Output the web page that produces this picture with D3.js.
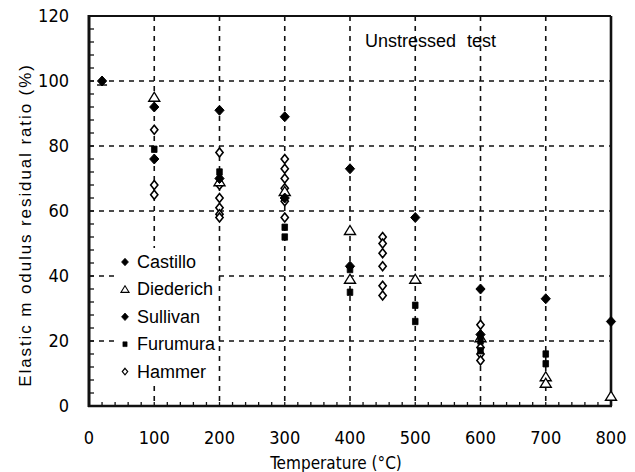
<!DOCTYPE html>
<html lang="en">
<head>
<meta charset="utf-8">
<title>Elastic modulus residual ratio</title>
<script src="https://cdnjs.cloudflare.com/ajax/libs/d3/7.8.5/d3.min.js"></script>
<style>
  body { margin: 0; background: #fff; }
  .num { font-family: "Liberation Sans Narrow", "Arial Narrow", "DejaVu Sans Condensed", sans-serif; font-size: 18px; }
  .txt { font-family: "Liberation Sans", Arial, sans-serif; font-size: 17px; }
</style>
</head>
<body>
<div id="chart"></div>
<script>
// temperatures (deg C) and residual ratios (%)
var castilloT = [20, 100, 200, 300, 400, 500, 600, 700, 800];
var castilloV = [100, 92, 91, 89, 73, 58, 36, 33, 26];

var diederichT = [100, 200, 300, 400, 400, 500, 600, 700, 700, 800];
var diederichV = [95, 69, 66, 54, 39, 39, 21, 9, 7, 3];

var sullivanT = [100, 200, 300, 400, 600];
var sullivanV = [76, 70, 64, 43, 22];

var furumuraT = [100, 200, 300, 300, 400, 400, 500, 500, 600, 600, 700, 700];
var furumuraV = [79, 72, 55, 52, 42, 35, 31, 26, 20, 17, 16, 13];

var hammerT = [100, 100, 100, 200, 200, 200, 200, 200, 200, 300, 300, 300, 300, 300, 300,
               450, 450, 450, 450, 450, 450, 600, 600, 600, 600];
var hammerV = [85, 68, 65, 78, 68, 64, 61, 59, 58, 76, 73, 70, 67, 63, 58,
               52, 50, 47, 43, 37, 34, 25, 18, 16, 14];

var xTicks = [0, 100, 200, 300, 400, 500, 600, 700, 800];
var yTicks = [0, 20, 40, 60, 80, 100, 120];
var legendNames = ["Castillo", "Diederich", "Sullivan", "Furumura", "Hammer"];

var W = 635, H = 472;
var svg = d3.select("#chart").append("svg")
  .attr("width", W).attr("height", H);

var x = d3.scaleLinear().domain([0, 800]).range([89, 611]);
var y = d3.scaleLinear().domain([0, 120]).range([406, 16]);

// dashed grid
svg.append("g").selectAll("line")
  .data(xTicks.slice(1, -1))
  .enter().append("line")
  .attr("x1", function(d) { return x(d); }).attr("x2", function(d) { return x(d); })
  .attr("y1", y(120)).attr("y2", y(0))
  .attr("stroke", "#111").attr("stroke-width", 1.6).attr("stroke-dasharray", "5,5");
svg.append("g").selectAll("line")
  .data(yTicks.slice(1, -1))
  .enter().append("line")
  .attr("y1", function(d) { return y(d); }).attr("y2", function(d) { return y(d); })
  .attr("x1", x(0)).attr("x2", x(800))
  .attr("stroke", "#111").attr("stroke-width", 1.6).attr("stroke-dasharray", "5,5");

// minor ticks, pointing inward
svg.append("g").selectAll("line")
  .data(d3.range(0, 121, 4))
  .enter().append("line")
  .attr("x1", x(0)).attr("x2", x(0) + 5)
  .attr("y1", function(d) { return y(d); }).attr("y2", function(d) { return y(d); })
  .attr("stroke", "#111").attr("stroke-width", 1.3);
svg.append("g").selectAll("line")
  .data(d3.range(0, 801, 20))
  .enter().append("line")
  .attr("x1", function(d) { return x(d); }).attr("x2", function(d) { return x(d); })
  .attr("y1", y(0)).attr("y2", y(0) - 4)
  .attr("stroke", "#111").attr("stroke-width", 1.3);

// frame
svg.append("line").attr("x1", x(0)).attr("x2", x(800)).attr("y1", y(120)).attr("y2", y(120))
  .attr("stroke", "#111").attr("stroke-width", 2);
svg.append("line").attr("x1", x(800)).attr("x2", x(800)).attr("y1", y(120)).attr("y2", y(0))
  .attr("stroke", "#111").attr("stroke-width", 2.6);
svg.append("line").attr("x1", x(0)).attr("x2", x(0)).attr("y1", y(120) - 1).attr("y2", y(0) + 1)
  .attr("stroke", "#111").attr("stroke-width", 3);
svg.append("line").attr("x1", x(0) - 1).attr("x2", x(800) + 1).attr("y1", y(0)).attr("y2", y(0))
  .attr("stroke", "#111").attr("stroke-width", 2.6);

// tick labels
svg.append("g").selectAll("text")
  .data(yTicks)
  .enter().append("text")
  .attr("class", "num")
  .attr("x", 69).attr("y", function(d) { return y(d) + 6; })
  .attr("text-anchor", "end")
  .text(function(d) { return d; });
svg.append("g").selectAll("text")
  .data(xTicks)
  .enter().append("text")
  .attr("class", "num")
  .attr("x", function(d) { return x(d); }).attr("y", 444)
  .attr("text-anchor", "middle")
  .text(function(d) { return d; });

// axis titles
svg.append("text").attr("class", "num")
  .attr("x", 336).attr("y", 469).attr("text-anchor", "middle")
  .style("font-size", "17px")
  .text("Temperature (°C)");
svg.append("text").attr("class", "txt")
  .attr("transform", "translate(31,225) rotate(-90)")
  .attr("text-anchor", "middle")
  .style("letter-spacing", "1.9px")
  .text("Elastic m odulus residual ratio (%)");

svg.append("text").attr("class", "txt")
  .attr("x", 365).attr("y", 47)
  .style("font-size", "18px").style("word-spacing", "6px")
  .text("Unstressed test");

// marker shapes
function diamond(w, h) {
  return "M0," + (-h) + "L" + w + ",0L0," + h + "L" + (-w) + ",0Z";
}
function triangle(s) {
  return "M0," + (-s) + "L" + (s * 1.1) + "," + (s * 0.8) + "L" + (-s * 1.1) + "," + (s * 0.8) + "Z";
}
var shapes = {
  Castillo: { d: diamond(4.6, 5), fill: "#000", sw: 1 },
  Diederich: { d: triangle(5), fill: "#fff", sw: 1.4 },
  Sullivan: { d: diamond(4.6, 5), fill: "#000", sw: 1 },
  Furumura: { d: "M-2.8,-3.2H2.8V3.2H-2.8Z", fill: "#000", sw: 0.8 },
  Hammer: { d: diamond(3.6, 4.4), fill: "#fff", sw: 1.6 }
};

// legend box hides the grid behind it
svg.append("rect")
  .attr("x", 114).attr("y", 248).attr("width", 100).attr("height", 136)
  .attr("fill", "#fff");

function plot(name, ts, vs) {
  var pts = ts.map(function(t, i) { return [t, vs[i]]; });
  svg.append("g").selectAll("path")
    .data(pts)
    .enter().append("path")
    .attr("transform", function(d) { return "translate(" + x(d[0]) + "," + y(d[1]) + ")"; })
    .attr("d", shapes[name].d)
    .attr("fill", shapes[name].fill)
    .attr("stroke", "#000")
    .attr("stroke-width", shapes[name].sw);
}
plot("Hammer", hammerT, hammerV);
plot("Diederich", diederichT, diederichV);
plot("Furumura", furumuraT, furumuraV);
plot("Sullivan", sullivanT, sullivanV);
plot("Castillo", castilloT, castilloV);

// small bar under the room temperature point
svg.append("line")
  .attr("x1", x(castilloT[0]) - 5).attr("x2", x(castilloT[0]) + 5)
  .attr("y1", y(castilloV[0]) + 4).attr("y2", y(castilloV[0]) + 4)
  .attr("stroke", "#000").attr("stroke-width", 1.4);

// legend
var leg = svg.append("g").selectAll("g")
  .data(legendNames)
  .enter().append("g")
  .attr("transform", function(d, i) { return "translate(125," + (262 + i * 27.4) + ")"; });
leg.append("path")
  .attr("d", function(d) { return shapes[d].d; })
  .attr("fill", function(d) { return shapes[d].fill; })
  .attr("stroke", "#000")
  .attr("stroke-width", function(d) { return shapes[d].sw; })
  .attr("transform", "scale(0.75)");
leg.append("text").attr("class", "txt")
  .attr("x", 12).attr("y", 6)
  .style("font-size", "18px")
  .text(function(d) { return d; });
</script>
</body>
</html>
